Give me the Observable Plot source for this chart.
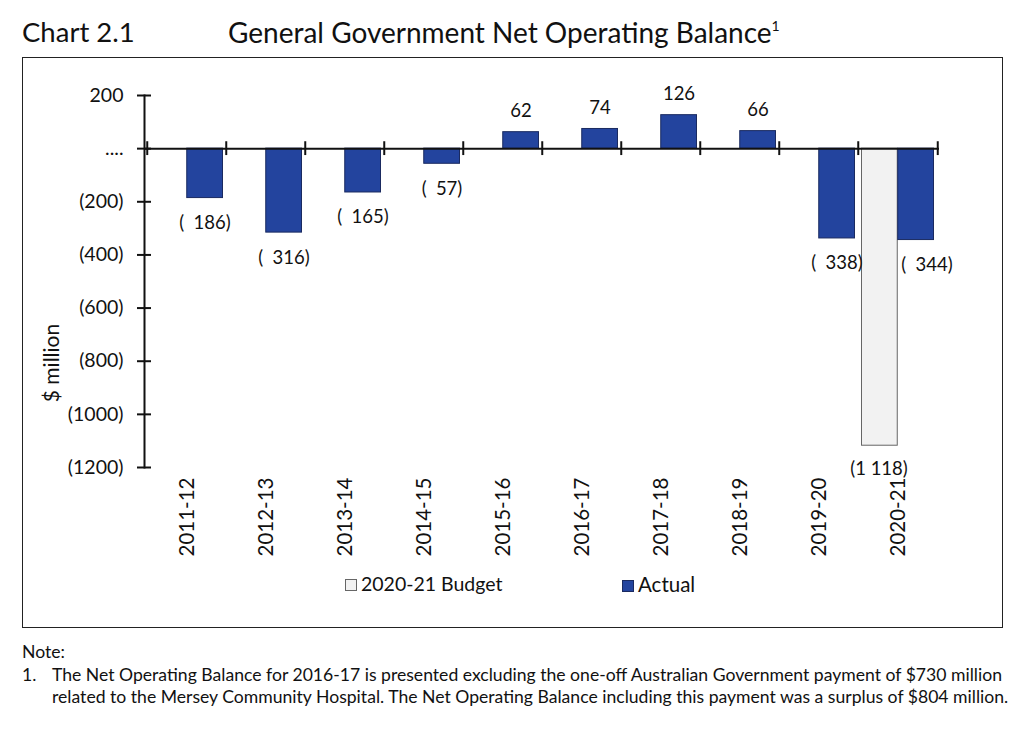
<!DOCTYPE html>
<html>
<head>
<meta charset="utf-8">
<script src="https://cdn.jsdelivr.net/npm/d3@7"></script>
<script src="https://cdn.jsdelivr.net/npm/@observablehq/plot@0.6"></script>
<style>
  html, body { margin: 0; padding: 0; background: #fff; }
  body { width: 1024px; height: 730px; position: relative; font-family: Lato, "Open Sans", sans-serif; color: #111; overflow: hidden; }
  .abs { position: absolute; white-space: nowrap; }
  #box { position: absolute; left: 22px; top: 57px; width: 981px; height: 571px; border: 1.5px solid #222; box-sizing: border-box; }
  #chart { position: absolute; left: 22px; top: 57px; }
  .sw { display: inline-block; width: 12px; height: 12px; margin-right: 4px; vertical-align: 0px; box-sizing: border-box; }
</style>
</head>
<body>
<div class="abs" style="left:22px; top:15px; font-size:27.5px;">Chart 2.1</div>
<div class="abs" style="left:228px; top:15px; font-size:28px;">General Government Net Operating Balance<sup style="font-size:14px; vertical-align: 12px;">1</sup></div>
<div id="box"></div>
<div id="chart"></div>
<div class="abs" style="left:50px; top:363px; font-size:21px; transform: translate(-50%,-50%) rotate(-90deg);">$ million</div>
<div class="abs" style="left:345px; top:572px; font-size:19.5px;"><span class="sw" style="background:#f2f2f2; border:1px solid #666;"></span>2020-21 Budget</div>
<div class="abs" style="left:622px; top:572px; font-size:20.5px;"><span class="sw" style="background:#23449e; border:1px solid #1a2a60;"></span>Actual</div>
<div class="abs" style="left:22px; top:641px; font-size:17.6px;">Note:</div>
<div class="abs" style="left:22px; top:664px; font-size:17.6px;">1.</div>
<div class="abs" style="left:52px; top:664px; font-size:17.6px; line-height:22px;">The Net Operating Balance for 2016-17 is presented excluding the one-off Australian Government payment of $730 million<br>related to the Mersey Community Hospital. The Net Operating Balance including this payment was a surplus of $804 million.</div>
<script>
const categories = ["2011-12","2012-13","2013-14","2014-15","2015-16","2016-17","2017-18","2018-19","2019-20","2020-21"];
const actual = [-186, -316, -165, -57, 62, 74, 126, 66, -338, -344];
const budget = [null, null, null, null, null, null, null, null, null, -1118];
const yTicks = [200, 0, -200, -400, -600, -800, -1000, -1200];

const actualRows = categories.map((c, i) => ({cat: c, value: actual[i]}));
const budgetRows = categories.map((c, i) => ({cat: c, value: budget[i]})).filter(d => d.value != null);

const W = 981, H = 505, ML = 122, MR = 64, MT = 38, MB = 95;
const bw = (W - ML - MR) / categories.length;
const gap = 3.5;

function fmtAxis(v) {
  if (v === 0) return "....";
  return v < 0 ? "(" + Math.abs(v) + ")" : String(v);
}
function fmtLabel(v) {
  if (v >= 0) return String(v);
  const a = Math.abs(v);
  if (a >= 1000) return "(" + Math.floor(a / 1000) + " " + String(a % 1000).padStart(3, "0") + ")";
  return "(\u2002" + a + ")";
}

const last = categories[categories.length - 1];

const chart = Plot.plot({
  width: W, height: H,
  marginLeft: ML, marginRight: MR, marginTop: MT, marginBottom: MB,
  style: {fontFamily: "Lato, 'Open Sans', sans-serif", fontSize: "17px", color: "#111", background: "transparent", overflow: "visible"},
  x: {type: "band", domain: categories, paddingInner: 0, paddingOuter: 0, axis: null, label: null},
  y: {domain: [-1200, 200], axis: null, label: null},
  marks: [
    Plot.barY(budgetRows, {x: "cat", y: "value", fill: "#f2f2f2", stroke: "#666", strokeWidth: 1, insetLeft: gap, insetRight: bw / 2}),
    Plot.barY(actualRows, {x: "cat", y: "value", fill: "#23449e", stroke: "#1a2a60", strokeWidth: 1, insetLeft: bw / 2, insetRight: gap}),
    Plot.frame({anchor: "left", stroke: "#111", strokeWidth: 2}),
    Plot.ruleY([0], {stroke: "#111", strokeWidth: 2}),
    Plot.ruleX(categories, {x: d => d, y1: -26, y2: 26, dx: -bw / 2, stroke: "#111", strokeWidth: 2}),
    Plot.ruleX([last], {x: d => d, y1: -26, y2: 26, dx: bw / 2, stroke: "#111", strokeWidth: 2}),
    Plot.tickY(yTicks, {y: d => d, insetLeft: -7, insetRight: (W - ML - MR) - 7, stroke: "#111", strokeWidth: 2}),
    Plot.axisY({ticks: yTicks, tickSize: 0, tickPadding: 21, tickFormat: fmtAxis, fontSize: 19.5, label: null}),
    Plot.axisX({tickSize: 0, tickRotate: -90, tickPadding: 10, fontSize: 20.5, label: null}),
    Plot.text(actualRows.filter(d => d.value >= 0), {x: "cat", y: "value", text: d => fmtLabel(d.value), dx: 18, dy: -21, fontSize: 18.5, fill: "#111"}),
    Plot.text(actualRows.filter(d => d.value < 0 && d.cat !== last), {x: "cat", y: "value", text: d => fmtLabel(d.value), dx: 18, dy: 25, fontSize: 18.5, fill: "#111"}),
    Plot.text(actualRows.filter(d => d.cat === last), {x: "cat", y: "value", text: d => fmtLabel(d.value), dx: 29, dy: 25, fontSize: 18.5, fill: "#111"}),
    Plot.text(budgetRows, {x: "cat", y: "value", text: d => fmtLabel(d.value), dx: -19, dy: 23, fontSize: 18.5, fill: "#111"})
  ]
});
document.getElementById("chart").appendChild(chart);
</script>
</body>
</html>
